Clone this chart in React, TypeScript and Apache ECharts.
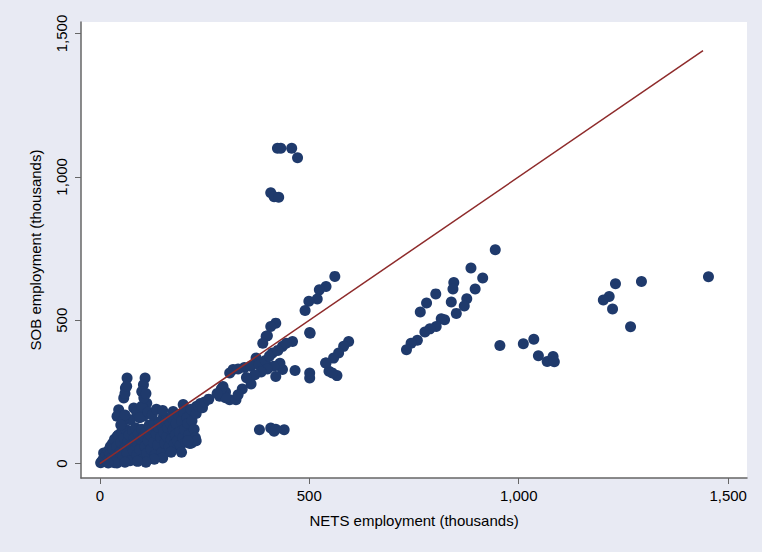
import React, { useEffect, useRef } from 'react';
import * as echarts from 'echarts';

const xTicks = [0, 500, 1000, 1500];
const yTicks = [0, 500, 1000, 1500];
const fitLine = [[0, 0], [1440, 1440]];

// NETS vs SOB employment (thousands)
const outlierPoints = [
  [424, 1100], [432, 1100], [458, 1100], [472, 1067],
  [408, 945], [416, 931], [427, 929],
  [944, 746], [886, 682], [914, 647], [845, 632], [843, 609], [896, 609],
  [802, 592], [780, 560], [839, 564], [876, 575], [870, 550], [851, 524],
  [765, 529], [823, 502], [815, 505], [803, 478], [788, 470], [776, 459],
  [758, 430], [743, 420], [732, 397],
  [955, 412], [1011, 418], [1036, 434], [1047, 376], [1068, 356], [1082, 374], [1085, 355],
  [1231, 627], [1293, 635], [1453, 652], [1216, 583], [1202, 571], [1224, 539], [1267, 477],
];

const midPoints = [
  [561, 653], [540, 618], [524, 606], [519, 574], [499, 566], [490, 534], [501, 457],
  [594, 426], [582, 409], [570, 386], [558, 368], [540, 351], [547, 322], [566, 307],
  [501, 316], [501, 299], [555, 316], [539, 351],
  [420, 490], [408, 478], [400, 446], [397, 444], [389, 420], [502, 455], [460, 426],
  [436, 409], [412, 386], [373, 368], [318, 328], [310, 316], [436, 328], [420, 304],
  [466, 325], [361, 278], [294, 269], [286, 235], [310, 223], [325, 223], [300, 250],
  [330, 330], [345, 335], [360, 340], [380, 345], [395, 360], [405, 375], [425, 395],
  [445, 420], [430, 350], [415, 340], [400, 330], [385, 320], [370, 310], [350, 300],
  [340, 260], [330, 240], [300, 230], [290, 260], [280, 245],
  [381, 118], [408, 124], [416, 113], [440, 118], [420, 120],
];

const clusterPoints = [
  [65, 299], [108, 299], [61, 264], [104, 275], [100, 252], [57, 229], [112, 211],
  [45, 188], [81, 194], [41, 165], [175, 182], [199, 206], [231, 200], [215, 182],
  [207, 130], [215, 101], [219, 72], [168, 153], [152, 165], [104, 165], [73, 153],
  [183, 60], [160, 55], [104, 25], [81, 14], [41, 2], [5, 8], [9, 37], [25, 60],
  [41, 95], [57, 118], [120, 130], [144, 118], [73, 72], [120, 60], [144, 84],
  [168, 107], [191, 142],
  [2, 3], [8, 15], [12, 22], [15, 30], [18, 10], [20, 45], [25, 35], [28, 20],
  [30, 70], [32, 50], [35, 85], [38, 15], [40, 60], [44, 100], [48, 40], [50, 75],
  [52, 110], [55, 25], [58, 90], [60, 55], [62, 120], [65, 35], [68, 80], [70, 100],
  [72, 10], [75, 65], [78, 115], [80, 45], [82, 90], [85, 125], [88, 30], [90, 70],
  [92, 105], [95, 50], [98, 85], [100, 120], [102, 15], [105, 95], [108, 60],
  [110, 110], [112, 35], [115, 80], [118, 135], [120, 100], [122, 50], [125, 120],
  [128, 75], [130, 140], [132, 30], [135, 105], [138, 65], [140, 125], [142, 145],
  [145, 90], [148, 40], [150, 130], [152, 110], [155, 70], [158, 150], [160, 95],
  [162, 125], [165, 60], [168, 140], [170, 85], [172, 160], [175, 120], [178, 70],
  [180, 100], [182, 140], [185, 80], [188, 170], [190, 110], [192, 65], [195, 150],
  [198, 90], [200, 180], [202, 120], [205, 75], [208, 160], [210, 140], [212, 100],
  [215, 70], [218, 190], [220, 150], [225, 120], [228, 90], [230, 175], [235, 200],
  [240, 210], [245, 195], [250, 215], [260, 225], [230, 80], [210, 80], [195, 40],
  [170, 40], [150, 20], [130, 15], [110, 5], [90, 8], [60, 5], [35, 3], [20, 2],
  [55, 150], [60, 170], [50, 135], [88, 180], [95, 160], [100, 200], [115, 180],
  [125, 170], [135, 190], [150, 185], [105, 230], [110, 245], [60, 245], [64, 270],
];

const App: React.FC = () => {
  const chartRef = useRef<HTMLDivElement | null>(null);

  useEffect(() => {
    if (!chartRef.current) return;
    const chart = echarts.init(chartRef.current, undefined, { renderer: 'svg' });
    const axisText = { color: '#000', fontSize: 15, fontFamily: 'Liberation Sans' };
    const dot = { color: '#1f3a6c', opacity: 1 };
    chart.setOption({
      animation: false,
      backgroundColor: '#e8eaf3',
      grid: {
        left: 81, right: 15, top: 22, bottom: 74,
        show: true, backgroundColor: '#fff', borderWidth: 0,
      },
      xAxis: {
        type: 'value', min: -45, max: 1545,
        name: 'NETS employment (thousands)', nameLocation: 'middle', nameGap: 35,
        nameTextStyle: axisText,
        splitLine: { show: false },
        axisLine: { show: true, onZero: false, lineStyle: { color: '#666', width: 1.5 } },
        axisTick: { show: true, customValues: xTicks, length: 6, lineStyle: { color: '#666' } },
        axisLabel: {
          ...axisText, customValues: xTicks, margin: 10,
          formatter: (v: number) => v.toLocaleString('en-US'),
        },
      },
      yAxis: {
        type: 'value', min: -50, max: 1540,
        name: 'SOB employment (thousands)', nameLocation: 'middle', nameGap: 38,
        nameTextStyle: axisText,
        splitLine: { show: false },
        axisLine: { show: true, onZero: false, lineStyle: { color: '#666', width: 1.5 } },
        axisTick: { show: true, customValues: yTicks, length: 6, lineStyle: { color: '#666' } },
        axisLabel: {
          ...axisText, customValues: yTicks, rotate: 90, margin: 12,
          formatter: (v: number) => v.toLocaleString('en-US'),
        },
      },
      series: [
        { type: 'scatter', data: clusterPoints, symbolSize: 11, itemStyle: dot },
        { type: 'scatter', data: midPoints, symbolSize: 11, itemStyle: dot },
        { type: 'scatter', data: outlierPoints, symbolSize: 11, itemStyle: dot },
        {
          type: 'line', data: fitLine, symbol: 'none',
          lineStyle: { color: '#8e2b2b', width: 1.5 },
        },
      ],
    });
    return () => chart.dispose();
  }, []);

  return (
    <div
      ref={chartRef}
      style={{ position: 'fixed', left: 0, top: 0, width: 762, height: 552 }}
    />
  );
};

export default App;
